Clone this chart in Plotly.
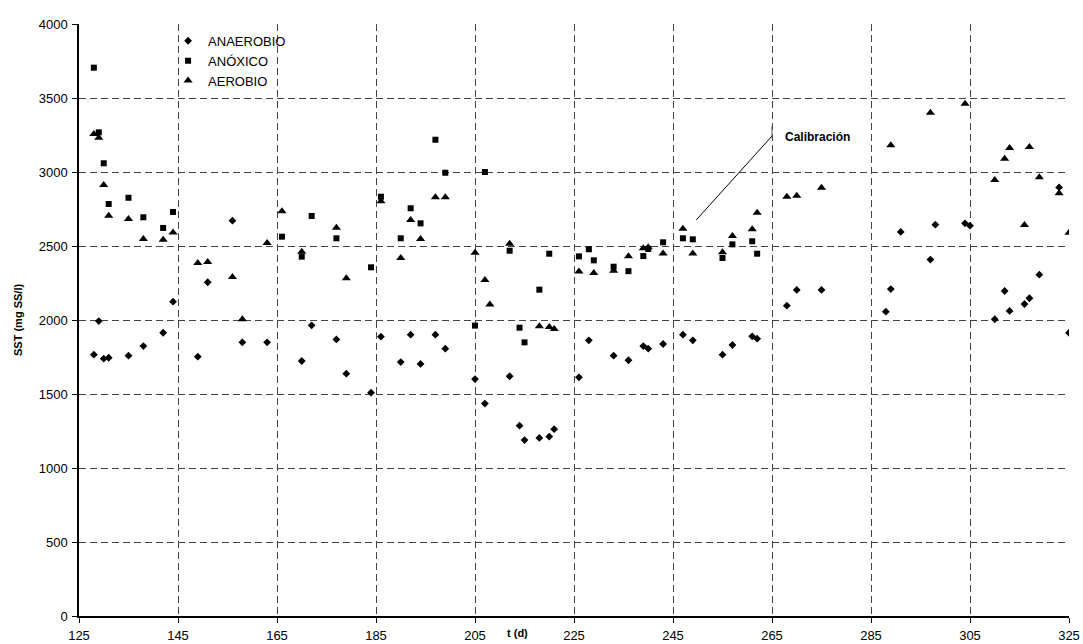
import plotly.graph_objects as go

# ---- data ----
t_anaerobio = [128, 129, 130, 131, 135, 138, 142, 144, 149, 151, 156, 158, 163,
               170, 172, 177, 179, 184, 186, 190, 192, 194, 197, 199, 205, 207,
               212, 214, 215, 218, 220, 221, 226, 228, 233, 236, 239, 240, 243,
               247, 249, 255, 257, 261, 262, 268, 270, 275, 288, 289, 291, 297,
               298, 304, 305, 310, 312, 313, 316, 317, 319, 323, 325]
sst_anaerobio = [1766, 1993, 1739, 1745, 1759, 1824, 1914, 2124, 1752, 2255, 2671, 1849, 1849,
                 1723, 1964, 1869, 1637, 1509, 1887, 1716, 1901, 1703, 1901, 1806, 1601, 1435,
                 1620, 1286, 1189, 1203, 1212, 1262, 1613, 1863, 1759, 1728, 1824, 1806, 1838,
                 1901, 1863, 1766, 1831, 1890, 1874, 2097, 2203, 2203, 2056, 2209, 2595, 2408,
                 2644, 2653, 2637, 2005, 2196, 2061, 2108, 2147, 2306, 2896, 1914]

t_anoxico = [128, 129, 130, 131, 135, 138, 142, 144, 166, 170, 172, 177, 184, 186,
             190, 192, 194, 197, 199, 205, 207, 212, 214, 215, 218, 220, 226, 228,
             229, 233, 236, 239, 240, 243, 247, 249, 255, 257, 261, 262]
sst_anoxico = [3705, 3268, 3059, 2784, 2826, 2694, 2622, 2730, 2563, 2428, 2703, 2552, 2356, 2833,
               2552, 2755, 2653, 3218, 2995, 1962, 3000, 2468, 1948, 1849, 2205, 2448, 2430, 2478,
               2403, 2360, 2330, 2432, 2480, 2525, 2552, 2545, 2419, 2511, 2532, 2448]

t_aerobio = [128, 129, 130, 131, 135, 138, 142, 144, 149, 151, 156, 158, 163, 166,
             170, 177, 179, 186, 190, 192, 194, 197, 199, 205, 207, 208, 212, 218,
             220, 221, 226, 229, 233, 236, 239, 240, 243, 247, 249, 255, 257, 261,
             262, 268, 270, 275, 289, 297, 304, 310, 312, 313, 316, 317, 319, 323, 325]
sst_aerobio = [3257, 3232, 2912, 2705, 2682, 2547, 2543, 2592, 2385, 2392, 2291, 2005, 2520, 2734,
               2461, 2624, 2282, 2802, 2419, 2676, 2547, 2829, 2829, 2455, 2270, 2104, 2516, 1957,
               1953, 1939, 2327, 2318, 2333, 2430, 2484, 2491, 2450, 2617, 2450, 2457, 2568, 2613,
               2725, 2833, 2840, 2894, 3180, 3401, 3461, 2946, 3090, 3162, 2642, 3169, 2964, 2856, 2590]

x_ticks = [125, 145, 165, 185, 205, 225, 245, 265, 285, 305, 325]
y_ticks = [0, 500, 1000, 1500, 2000, 2500, 3000, 3500, 4000]

# annotation "Calibración"
calib_line_start = (249.7, 2676)
calib_line_end = (265.0, 3243)
calib_bar = (265.0, 3228, 3311)
calib_text_pos = (267.2, 3236)
x_title_pos = 213.6

FONT = "Liberation Sans, Arial, sans-serif"

fig = go.Figure()
fig.add_trace(go.Scatter(x=t_anaerobio, y=sst_anaerobio, mode="markers", name="ANAEROBIO",
                         marker=dict(symbol="diamond", size=6, color="black")))
fig.add_trace(go.Scatter(x=t_anoxico, y=sst_anoxico, mode="markers", name="ANÓXICO",
                         marker=dict(symbol="square", size=6, color="black")))
fig.add_trace(go.Scatter(x=t_aerobio, y=sst_aerobio, mode="markers", name="AEROBIO",
                         marker=dict(symbol="triangle-up", size=8, color="black")))

fig.add_shape(type="line", xref="x", yref="y",
              x0=calib_line_start[0], y0=calib_line_start[1],
              x1=calib_line_end[0], y1=calib_line_end[1],
              line=dict(color="black", width=1))
fig.add_shape(type="line", xref="x", yref="y",
              x0=calib_bar[0], y0=calib_bar[1], x1=calib_bar[0], y1=calib_bar[2],
              line=dict(color="#555", width=1))
fig.add_annotation(x=calib_text_pos[0], y=calib_text_pos[1], xref="x", yref="y",
                   text="<b>Calibración</b>", showarrow=False, xanchor="left", yanchor="middle",
                   font=dict(family=FONT, size=12, color="black"))

# axis titles
fig.add_annotation(x=x_title_pos, y=0, xref="x", yref="paper", text="<b>t (d)</b>", showarrow=False,
                   xanchor="center", yanchor="top", yshift=-9,
                   font=dict(family=FONT, size=11, color="black"))
fig.add_annotation(x=0, y=0.5, xref="paper", yref="paper", text="<b>SST (mg SS/l)</b>",
                   showarrow=False, textangle=-90, xanchor="center", yanchor="middle",
                   xshift=-61, font=dict(family=FONT, size=11, color="black"))

grid_dash = "7px,4px"
fig.update_xaxes(range=[125, 325], tickvals=x_ticks, ticktext=[str(v) for v in x_ticks],
                 showgrid=True, gridcolor="#444", gridwidth=1, griddash=grid_dash,
                 showline=True, linecolor="black", linewidth=1.5,
                 ticks="outside", ticklen=5, tickcolor="black", ticklabelstandoff=2,
                 zeroline=False, tickfont=dict(family=FONT, size=13, color="black"))
fig.update_yaxes(range=[0, 4000], tickvals=y_ticks, ticktext=[str(v) for v in y_ticks],
                 showgrid=True, gridcolor="#444", gridwidth=1, griddash=grid_dash,
                 showline=True, linecolor="black", linewidth=1.5,
                 ticks="outside", ticklen=5, tickcolor="black", ticklabelstandoff=2,
                 zeroline=False, tickfont=dict(family=FONT, size=13, color="black"))

fig.update_layout(
    width=1083, height=644,
    margin=dict(l=79, r=14, t=24, b=28, autoexpand=False),
    plot_bgcolor="white", paper_bgcolor="white",
    showlegend=True,
    legend=dict(x=0.09, y=0.997, xanchor="left", yanchor="top",
                bgcolor="rgba(255,255,255,0)", borderwidth=0,
                font=dict(family=FONT, size=13, color="black"),
                itemwidth=30, tracegroupgap=0),
    font=dict(family=FONT, color="black"),
)

fig.write_html("out.html")
